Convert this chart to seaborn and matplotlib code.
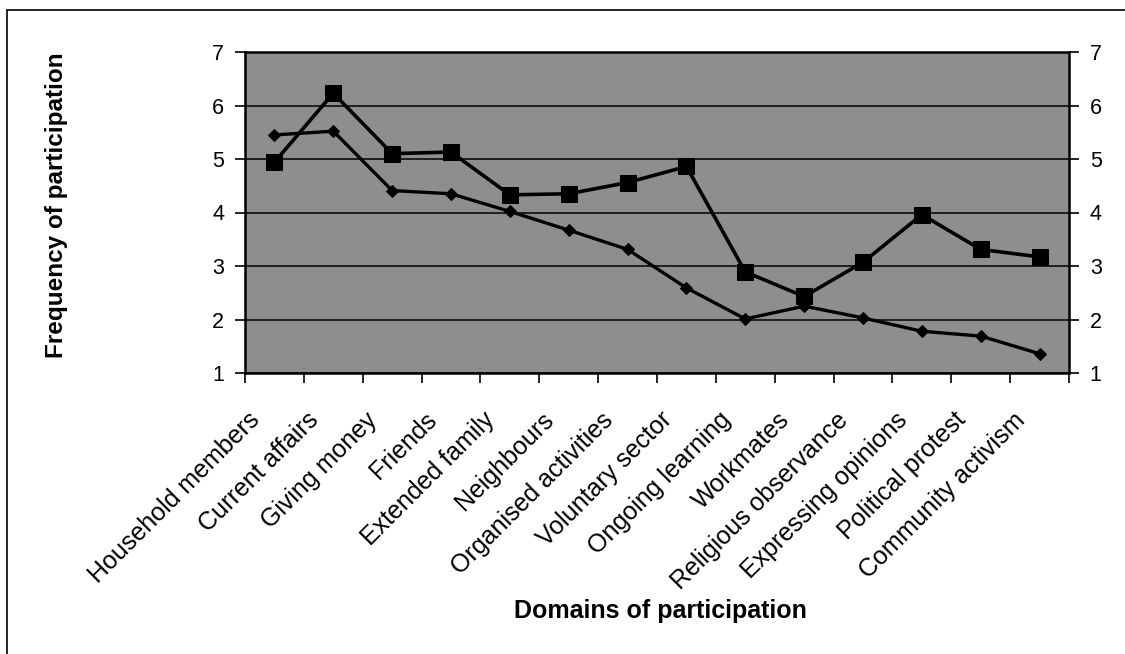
import numpy as np
import pandas as pd
import matplotlib
matplotlib.use("Agg")
import matplotlib.pyplot as plt
import matplotlib.transforms as mtransforms
from matplotlib.lines import Line2D
import seaborn as sns

# ---- data ----
categories = [
    "Household members", "Current affairs", "Giving money", "Friends",
    "Extended family", "Neighbours", "Organised activities", "Voluntary sector",
    "Ongoing learning", "Workmates", "Religious observance",
    "Expressing opinions", "Political protest", "Community activism",
]
series_squares = [4.94, 6.23, 5.10, 5.13, 4.33, 4.35, 4.56, 4.86,
                  2.89, 2.43, 3.07, 3.96, 3.31, 3.17]
series_diamonds = [5.45, 5.52, 4.41, 4.35, 4.02, 3.67, 3.31, 2.59,
                   2.01, 2.25, 2.03, 1.78, 1.69, 1.36]
y_ticks = [1, 2, 3, 4, 5, 6, 7]
x_title = "Domains of participation"
y_title = "Frequency of participation"

sns.set_theme(style="white")
plt.rcParams["font.family"] = ["Liberation Sans", "DejaVu Sans"]
plt.rcParams["text.color"] = "black"
plt.rcParams["xtick.color"] = "black"
plt.rcParams["ytick.color"] = "black"
plt.rcParams["axes.labelcolor"] = "black"

df = pd.DataFrame({
    "pos": np.arange(len(categories)),
    "squares": series_squares,
    "diamonds": series_diamonds,
})

fig = plt.figure(figsize=(11.25, 6.54), dpi=100)
ax = fig.add_axes([245 / 1125, 1 - 373 / 654, (1069 - 245) / 1125, (373 - 52) / 654])
ax.set_facecolor("#8e8e8e")

ax.set_ylim(1, 7)
ax.set_xlim(-0.5, len(categories) - 0.5)
ax.set_yticks(y_ticks)
ax.yaxis.grid(True, color="black", linewidth=1.1)
ax.xaxis.grid(False)
ax.set_axisbelow(True)

sns.lineplot(data=df, x="pos", y="diamonds", ax=ax, color="black",
             linewidth=2.4, marker="D", markersize=6, markeredgecolor="black",
             markerfacecolor="black", zorder=3)
sns.lineplot(data=df, x="pos", y="squares", ax=ax, color="black",
             linewidth=2.6, marker="s", markersize=11, markeredgecolor="black",
             markerfacecolor="black", zorder=4)

ax.set_xlabel("")
ax.set_ylabel("")

# x ticks: labels at centers, tick marks at boundaries
ax.set_xticks(df["pos"])
ax.set_xticklabels(categories, rotation=45, ha="right", va="top",
                   rotation_mode="default", fontsize=18, color="black")
ax.set_xticks(np.arange(-0.5, len(categories)), minor=True)
ax.tick_params(axis="x", which="major", length=0, pad=25, bottom=True)
ax.tick_params(axis="x", which="minor", length=7, width=1.2, color="black",
               direction="out", bottom=True)
offset = mtransforms.ScaledTranslation(-10 / 100, 0, fig.dpi_scale_trans)
for lab in ax.get_xticklabels():
    lab.set_transform(lab.get_transform() + offset)

ax.tick_params(axis="y", which="major", length=7, width=1.2, color="black",
               direction="out", left=True, right=True, labelleft=True,
               labelright=True, labelsize=15.5, pad=8, labelcolor="black")
ax.set_yticklabels([str(v) for v in y_ticks])

for side in ["left", "right", "top", "bottom"]:
    ax.spines[side].set_visible(True)
    ax.spines[side].set_color("black")
    ax.spines[side].set_linewidth(1.8)

# axis titles
fig.text(56 / 1125, 1 - 205 / 654, y_title, rotation=90, ha="center",
         va="center", fontsize=17.5, fontweight="bold", color="black")
fig.text(660 / 1125, 1 - 611 / 654, x_title, ha="center", va="center",
         fontsize=18, fontweight="bold", color="black")

# outer frame
fig.add_artist(Line2D([7 / 1125, 7 / 1125], [0, 1 - 10 / 654],
                      transform=fig.transFigure, color="black", linewidth=1.2))
fig.add_artist(Line2D([7 / 1125, 1], [1 - 10 / 654, 1 - 10 / 654],
                      transform=fig.transFigure, color="black", linewidth=1.2))

fig.savefig("out.png", dpi=100, facecolor="white")
